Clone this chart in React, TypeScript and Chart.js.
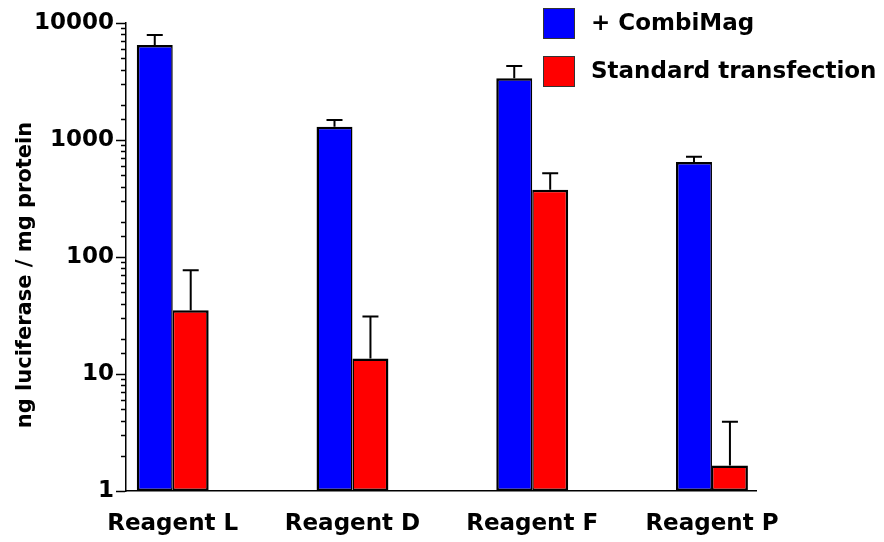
import React, { useEffect, useRef } from 'react';
import { Chart, registerables } from 'chart.js';

Chart.register(...registerables);

const categories = ['Reagent L', 'Reagent D', 'Reagent F', 'Reagent P'];
const seriesLabels = ['+ CombiMag', 'Standard transfection'];
const combiMag = [6500, 1300, 3370, 650];
const combiMagUpper = [7900, 1480, 4300, 720];
const standard = [35, 13.6, 375, 1.65];
const standardUpper = [77, 31, 520, 3.9];
const yTicks = [1, 10, 100, 1000, 10000];
const yTitle = 'ng luciferase / mg protein';

const FONT = '"DejaVu Sans", Verdana, sans-serif';
const BLUE = '#0000ff';
const RED = '#ff0000';

const isPow10 = (v: number) => {
  const l = Math.log10(v);
  return Math.abs(l - Math.round(l)) < 1e-9;
};

export default function App() {
  const ref = useRef<HTMLCanvasElement>(null);

  useEffect(() => {
    if (!ref.current) return;
    const uppers = [combiMagUpper, standardUpper];

    const extras = {
      id: 'extras',
      afterDatasetsDraw(chart: any) {
        const ctx = chart.ctx;
        const y = chart.scales.y;
        ctx.save();
        ctx.strokeStyle = '#000';
        ctx.lineWidth = 2;
        chart.data.datasets.forEach((ds: any, di: number) => {
          const meta = chart.getDatasetMeta(di);
          meta.data.forEach((bar: any, i: number) => {
            const x = bar.x;
            const top = bar.y;
            const up = y.getPixelForValue(uppers[di][i]);
            ctx.beginPath();
            ctx.moveTo(x, top);
            ctx.lineTo(x, up);
            ctx.moveTo(x - 8, up);
            ctx.lineTo(x + 8, up);
            ctx.stroke();
          });
        });
        ctx.restore();
      },
      afterDraw(chart: any) {
        const ctx = chart.ctx;
        const y = chart.scales.y;
        const ax = chart.chartArea.left;
        ctx.save();
        // minor ticks
        ctx.strokeStyle = '#000';
        ctx.lineWidth = 1.5;
        y.ticks.forEach((t: any) => {
          if (!isPow10(t.value)) {
            const py = Math.round(y.getPixelForValue(t.value)) + 0.5;
            ctx.beginPath();
            ctx.moveTo(ax - 5, py);
            ctx.lineTo(ax, py);
            ctx.stroke();
          }
        });
        // y title
        ctx.save();
        ctx.font = `bold 21px ${FONT}`;
        ctx.fillStyle = '#000';
        ctx.textAlign = 'center';
        ctx.textBaseline = 'middle';
        ctx.translate(26, 275);
        ctx.rotate(-Math.PI / 2);
        ctx.fillText(yTitle, 0, 0);
        ctx.restore();
        // legend
        ctx.font = `bold 23px ${FONT}`;
        ctx.textAlign = 'left';
        ctx.textBaseline = 'middle';
        chart.data.datasets.forEach((ds: any, di: number) => {
          const bx = 543;
          const by = 8 + di * 48;
          ctx.fillStyle = ds.backgroundColor;
          ctx.fillRect(bx, by, 32, 31);
          ctx.strokeStyle = '#333';
          ctx.lineWidth = 1;
          ctx.strokeRect(bx + 0.5, by + 0.5, 31, 30);
          ctx.fillStyle = '#000';
          ctx.fillText(ds.label, 591, by + 16);
        });
        ctx.restore();
      },
    };

    const chart = new Chart(ref.current, {
      type: 'bar',
      data: {
        datasets: [
          {
            label: seriesLabels[0],
            data: categories.map((_, i) => ({ x: i, y: combiMag[i] })),
            backgroundColor: BLUE,
            borderColor: '#000',
            borderWidth: { top: 2.5, left: 2.5, right: 1.5, bottom: 2.5 },
            borderSkipped: false,
          },
          {
            label: seriesLabels[1],
            data: categories.map((_, i) => ({ x: i, y: standard[i] })),
            backgroundColor: RED,
            borderColor: '#000',
            borderWidth: { top: 2.5, left: 1.5, right: 2.5, bottom: 2.5 },
            borderSkipped: false,
          },
        ],
      } as any,
      options: {
        animation: false,
        responsive: true,
        maintainAspectRatio: false,
        categoryPercentage: 0.4,
        barPercentage: 1,
        layout: { padding: { top: 23, right: 128, bottom: 0, left: 0 } },
        plugins: {
          legend: { display: false },
          tooltip: { enabled: false },
        },
        scales: {
          x: {
            type: 'linear',
            offset: false,
            min: -0.26,
            max: 3.245,
            grid: { drawOnChartArea: false, drawTicks: false, offset: false },
            border: { display: true, color: '#000', width: 1.5 },
            ticks: {
              stepSize: 1,
              includeBounds: false,
              autoSkip: false,
              maxRotation: 0,
              padding: 19,
              color: '#000',
              font: { family: FONT, size: 23, weight: 'bold' },
              callback: (v: any) => categories[Math.round(Number(v))] ?? '',
            },
            afterFit: (s: any) => {
              s.height = 51;
            },
          },
          y: {
            type: 'logarithmic',
            min: yTicks[0],
            max: yTicks[yTicks.length - 1],
            grid: {
              drawOnChartArea: false,
              drawTicks: true,
              tickLength: 10,
              tickWidth: 1.5,
              tickColor: (ctx: any) =>
                ctx.tick && isPow10(ctx.tick.value) ? '#000' : 'rgba(0,0,0,0)',
            },
            border: { display: true, color: '#000', width: 1.5 },
            ticks: {
              autoSkip: false,
              padding: 2,
              color: '#000',
              font: { family: FONT, size: 23, weight: 'bold' },
              callback: (v: any) => (yTicks.includes(Number(v)) ? String(v) : ''),
            },
            afterFit: (s: any) => {
              s.width = 126;
            },
          },
        },
      } as any,
      plugins: [extras],
    });
    return () => chart.destroy();
  }, []);

  return (
    <div style={{ position: 'fixed', left: 0, top: 0, width: 884, height: 542, background: '#fff' }}>
      <canvas ref={ref} />
    </div>
  );
}
